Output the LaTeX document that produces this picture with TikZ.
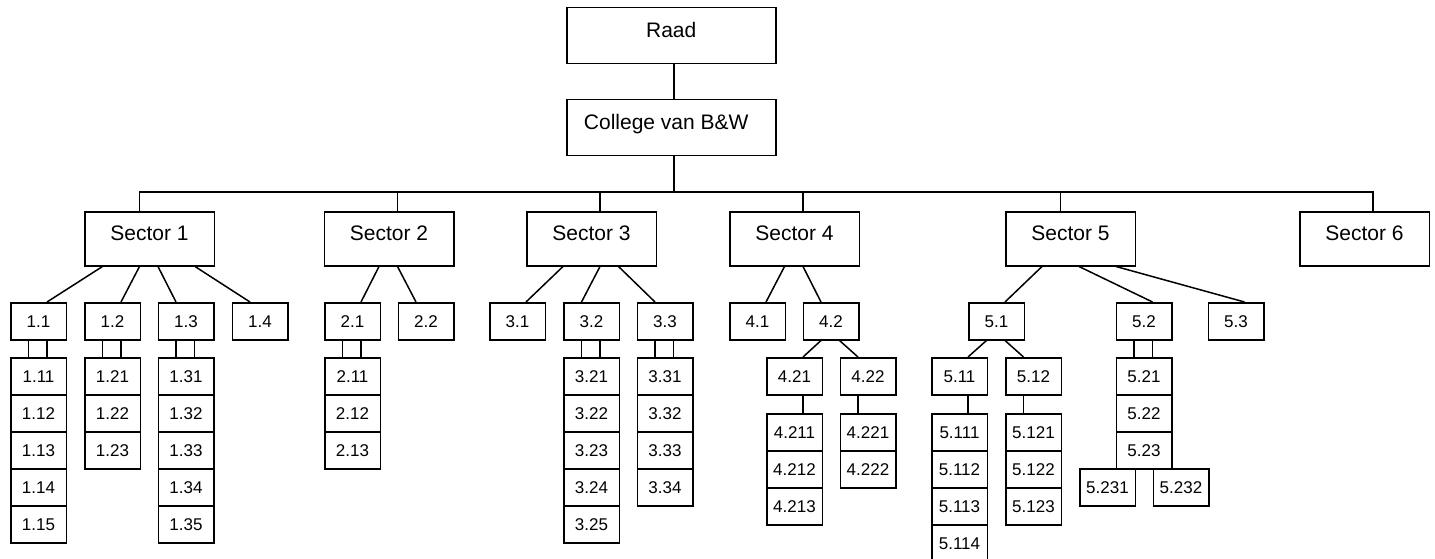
\documentclass[tikz,border=0pt]{standalone}
\usepackage{fontspec}
\setmainfont{Liberation Sans}
% connector from a point on the bottom edge of one box to a point on the top edge of another,
% both given as distances from the boxes' left edges
\newcommand\conn[4]{\draw[wire] ([xshift=#2pt]#1.south west) -- ([xshift=#4pt]#3.north west);}
% two parallel connectors joining a unit to the column below it
\newcommand\pair[2]{\conn{#1}{18.5}{#2}{18.5}\conn{#1}{37}{#2}{37}}
\begin{document}
\begin{tikzpicture}[x=1pt,y=-1pt,
  box/.style={draw, line width=1.5pt, rectangle, inner sep=0pt, anchor=north west},
  big/.style={box, font=\fontsize{21}{25}\selectfont, text height=15pt, text depth=12pt},
  top/.style={big, minimum width=209pt, minimum height=56pt},
  sector/.style={big, minimum width=129.5pt, minimum height=54pt},
  unit/.style={box, font=\fontsize{17}{20}\selectfont, minimum width=55.5pt, minimum height=37pt},
  wire/.style={line width=1.5pt}]
\useasboundingbox (0,0) rectangle (1435,559);

% board and executive
\node[top] (raad) at (566,7) {Raad};
\node[top] (college) at (566,99) {College van B\&W\kern10pt};
\draw[wire] ([xshift=108pt]raad.south west) -- ([xshift=108pt]college.north west);

% sectors
\node[sector] (s1) at (84,211) {Sector 1};
\node[sector] (s2) at (323.5,211) {Sector 2};
\node[sector] (s3) at (526,211) {Sector 3};
\node[sector] (s4) at (729,211) {Sector 4};
\node[sector] (s5) at (1005,211) {Sector 5};
\node[sector] (s6) at (1299,211) {Sector 6};

% distribution bar
\coordinate (bus) at (0,192);
\coordinate (t0) at ([xshift=108pt]college.south west);
\coordinate (t1) at ([xshift=55.5pt]s1.north west);
\coordinate (t2) at ([xshift=74pt]s2.north west);
\coordinate (t3) at ([xshift=74pt]s3.north west);
\coordinate (t4) at ([xshift=74pt]s4.north west);
\coordinate (t5) at ([xshift=55.5pt]s5.north west);
\coordinate (t6) at ([xshift=74pt]s6.north west);
\draw[wire] (t0) -- (t0 |- bus);
\draw[wire] (t1) -- (t1 |- bus) -- (t6 |- bus) -- (t6);
\draw[wire] (t2) -- (t2 |- bus);
\draw[wire] (t3) -- (t3 |- bus);
\draw[wire] (t4) -- (t4 |- bus);
\draw[wire] (t5) -- (t5 |- bus);

% sector 1
\node[unit] (n11) at (10,302) {1.1};
\node[unit] (n12) at (84,302) {1.2};
\node[unit] (n13) at (157.5,302) {1.3};
\node[unit] (n14) at (231.5,302) {1.4};
\conn{s1}{18.5}{n11}{37}
\conn{s1}{55.5}{n12}{37}
\conn{s1}{74}{n13}{18.5}
\conn{s1}{111}{n14}{18.5}
\node[unit] (n111) at (10,357) {1.11};
\node[unit] (n112) at (10,394) {1.12};
\node[unit] (n113) at (10,431) {1.13};
\node[unit] (n114) at (10,468) {1.14};
\node[unit] (n115) at (10,505) {1.15};
\pair{n11}{n111}
\node[unit] (n121) at (84,357) {1.21};
\node[unit] (n122) at (84,394) {1.22};
\node[unit] (n123) at (84,431) {1.23};
\pair{n12}{n121}
\node[unit] (n131) at (157.5,357) {1.31};
\node[unit] (n132) at (157.5,394) {1.32};
\node[unit] (n133) at (157.5,431) {1.33};
\node[unit] (n134) at (157.5,468) {1.34};
\node[unit] (n135) at (157.5,505) {1.35};
\pair{n13}{n131}

% sector 2
\node[unit] (n21) at (324,302) {2.1};
\node[unit] (n22) at (397.5,302) {2.2};
\conn{s2}{55.5}{n21}{37}
\conn{s2}{74}{n22}{18.5}
\node[unit] (n211) at (324,357) {2.11};
\node[unit] (n212) at (324,394) {2.12};
\node[unit] (n213) at (324,431) {2.13};
\pair{n21}{n211}

% sector 3
\node[unit] (n31) at (489,302) {3.1};
\node[unit] (n32) at (563,302) {3.2};
\node[unit] (n33) at (636.5,302) {3.3};
\conn{s3}{37}{n31}{37}
\conn{s3}{74}{n32}{18.5}
\conn{s3}{92.5}{n33}{18.5}
\node[unit] (n321) at (563,357) {3.21};
\node[unit] (n322) at (563,394) {3.22};
\node[unit] (n323) at (563,431) {3.23};
\node[unit] (n324) at (563,468) {3.24};
\node[unit] (n325) at (563,505) {3.25};
\pair{n32}{n321}
\node[unit] (n331) at (636.5,357) {3.31};
\node[unit] (n332) at (636.5,394) {3.32};
\node[unit] (n333) at (636.5,431) {3.33};
\node[unit] (n334) at (636.5,468) {3.34};
\pair{n33}{n331}

% sector 4
\node[unit] (n41) at (729,302) {4.1};
\node[unit] (n42) at (802.5,302) {4.2};
\conn{s4}{55.5}{n41}{37}
\conn{s4}{74}{n42}{18.5}
\node[unit] (n421) at (766,357) {4.21};
\node[unit] (n422) at (839.5,357) {4.22};
\conn{n42}{18.5}{n421}{37}
\conn{n42}{37}{n422}{18.5}
\node[unit] (n4211) at (766,413) {4.211};
\node[unit] (n4212) at (766,450) {4.212};
\node[unit] (n4213) at (766,487) {4.213};
\conn{n421}{37}{n4211}{37}
\node[unit] (n4221) at (839.5,413) {4.221};
\node[unit] (n4222) at (839.5,450) {4.222};
\conn{n422}{18.5}{n4221}{18.5}

% sector 5
\node[unit] (n51) at (968,302) {5.1};
\node[unit] (n52) at (1115.5,302) {5.2};
\node[unit] (n53) at (1207.5,302) {5.3};
\conn{s5}{37}{n51}{37}
\conn{s5}{74}{n52}{37}
\conn{s5}{111}{n53}{37}
\node[unit] (n511) at (931,357) {5.11};
\node[unit] (n512) at (1005,357) {5.12};
\conn{n51}{18.5}{n511}{37}
\conn{n51}{37}{n512}{18.5}
\node[unit] (n5111) at (931,413) {5.111};
\node[unit] (n5112) at (931,450) {5.112};
\node[unit] (n5113) at (931,487) {5.113};
\node[unit] (n5114) at (931,524) {5.114};
\conn{n511}{37}{n5111}{37}
\node[unit] (n5121) at (1005,413) {5.121};
\node[unit] (n5122) at (1005,450) {5.122};
\node[unit] (n5123) at (1005,487) {5.123};
\conn{n512}{18.5}{n5121}{18.5}
\node[unit] (n521) at (1115.5,357) {5.21};
\node[unit] (n522) at (1115.5,394) {5.22};
\node[unit] (n523) at (1115.5,431) {5.23};
\pair{n52}{n521}
\node[unit] (n5231) at (1079,468) {5.231};
\node[unit] (n5232) at (1152.5,468) {5.232};
\end{tikzpicture}
\end{document}
